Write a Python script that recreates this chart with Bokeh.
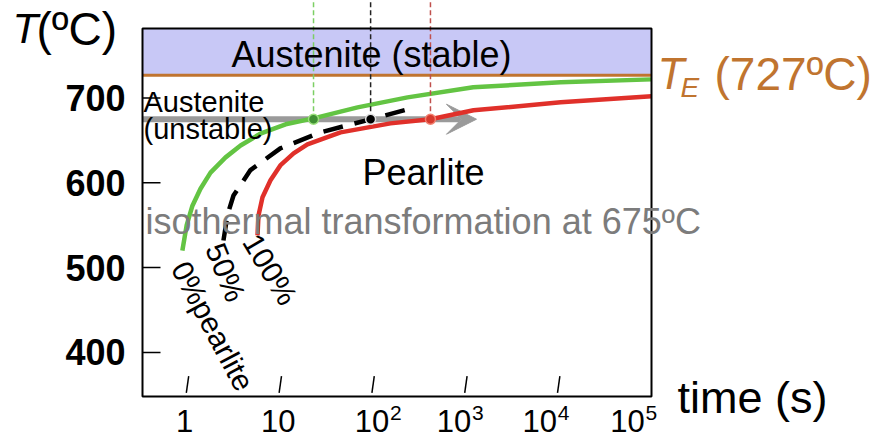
import math
from bokeh.plotting import figure
from bokeh.models import Label, Arrow, VeeHead, ColumnDataSource
from bokeh.core.properties import value
from bokeh.embed import file_html
from bokeh.resources import INLINE

# ---------------- data ----------------
time_ticks = [1, 10, 100, 1000, 10000, 100000]
tick_text = ["1", "10", "10", "10", "10", "10"]
tick_exp = ["", "", "2", "3", "4", "5"]
temp_ticks = [400, 500, 600, 700]

T_E = 727          # eutectoid temperature
T_iso = 675        # isothermal transformation temperature
t_arrow_end = 1300 # time where the grey arrow tip sits

# 0% pearlite (start) curve
t_0 = [0.88, 0.98, 1.13, 1.38, 1.77, 2.57, 3.73, 6.1, 11.4, 22.8, 68, 235, 1200, 10500, 100000]
T_0 = [520, 550, 573, 593, 612, 630, 644, 658, 669, 676, 689, 700.8, 712.6, 718.5, 722]
# 50% pearlite curve
t_50 = [2.44, 2.70, 3.13, 4.77, 10.0, 27.1, 93.8, 235]
T_50 = [532, 562.5, 585, 615, 640.6, 659.5, 674.9, 686.7]
# 100% pearlite (finish) curve
t_100 = [5.68, 5.82, 6.43, 7.84, 10.0, 13.9, 19.6, 44.6, 154, 415, 1208, 10500, 100000]
T_100 = [538, 561.5, 583, 603, 620.5, 634.7, 645.3, 659.5, 670.1, 675, 685.5, 695, 702]
# times at which each curve is crossed at 675 C
t_cross = [22.8, 94, 415]

# ---------------- layout ----------------
W, H = 876, 438
FL, FR, FT, FB = 142, 651, 28, 396      # the boxed plot area, in pixels
X0, X1 = 10 ** -0.485, 1e5              # time span of the box
Y0, Y1 = 348, 782                       # temperature span of the box
FONT = "Liberation Sans"


def dx(px):
    return 10 ** (math.log10(X0) + (px - FL) / (FR - FL) * (math.log10(X1) - math.log10(X0)))


def dy(py):
    return Y0 + (FB - py) / (FB - FT) * (Y1 - Y0)


p = figure(width=W, height=H, x_axis_type="log", x_axis_location=None,
           y_axis_location=None, x_range=(dx(0), dx(W)), y_range=(dy(H), dy(0)),
           output_backend="svg", toolbar_location=None, min_border=0)
p.grid.visible = False
p.outline_line_color = None
p.background_fill_color = "white"
p.border_fill_color = "white"

# austenite (stable) band
p.quad(left=[X0], right=[X1], bottom=[T_E], top=[Y1], fill_color="#c8c8f6",
       line_color=None)

# grey isothermal arrow (under the curves)
p.add_layout(Arrow(end=VeeHead(size=30, fill_color="#9a9a9a", line_color="#9a9a9a"),
                   x_start=X0, y_start=T_iso, x_end=t_arrow_end, y_end=T_iso,
                   line_color="#9a9a9a", line_width=6, level="underlay"))

# eutectoid line
p.line([X0, X1], [T_E, T_E], line_color="#c0742f", line_width=3)

# curves
p.line(t_0, T_0, line_color="#63c443", line_width=4.5)
p.line(t_50, T_50, line_color="black", line_width=4.5, line_dash="20 12")
p.line(t_100, T_100, line_color="#e0302a", line_width=4.5)

# vertical dashed guides (extend above the box)
guide_colors = ["#7ccf64", "#222222", "#c0504d"]
for t, c in zip(t_cross, guide_colors):
    p.line([t, t], [T_iso, dy(0)], line_color=c, line_width=1.5, line_dash="5 3")

p.scatter(t_cross, [T_iso] * len(t_cross), size=10,
          fill_color=["#3f8f33", "black", "#d63a2e"],
          line_color=["#9be07c", "#dddddd", "#f28070"], line_width=1.5)

# box (frame of the diagram)
p.quad(left=[X0], right=[X1], bottom=[Y0], top=[Y1], fill_color=None,
       line_color="black", line_width=2)

# temperature axis: inward ticks + bold labels
p.scatter([dx(FL + 9)] * len(temp_ticks), temp_ticks, marker="dash", size=18,
          line_color="black", line_width=1.5)
p.text(x=[dx(FL - 17)] * len(temp_ticks), y=temp_ticks, text=[str(v) for v in temp_ticks],
       text_align="right", text_baseline="middle", text_font=value(FONT),
       text_font_size="36px", text_font_style="bold", text_color="black")

# time axis: slanted inward ticks + labels with superscripts
p.scatter(time_ticks[:-1], [dy(384)] * (len(time_ticks) - 1), marker="dash", size=17,
          angle=math.radians(82), line_color="black", line_width=1.5)
label_dx = [-3, -2, -1, -12, -19, -24]
src = ColumnDataSource(dict(x=time_ticks, t=tick_text, off=label_dx))
p.text(x="x", y=dy(420), text="t", source=src, x_offset="off",
       text_align="center", text_baseline="middle", text_font=value(FONT),
       text_font_size="31px", text_color="black")
keep = [i for i, e in enumerate(tick_exp) if e]
src_e = ColumnDataSource(dict(x=[time_ticks[i] for i in keep],
                              e=[tick_exp[i] for i in keep],
                              off=[label_dx[i] + 18 for i in keep]))
p.text(x="x", y=dy(412), text="e", source=src_e, x_offset="off",
       text_align="left", text_baseline="middle", text_font=value(FONT),
       text_font_size="21px", text_color="black")


def lab(px, py, text, size, color="black", style="normal", align="left", angle=0.0):
    # py is the vertical middle of the text line
    p.add_layout(Label(x=dx(px), y=dy(py), text=text, text_font=FONT,
                       text_font_size=f"{size}px", text_color=color,
                       text_font_style=style, text_align=align,
                       text_baseline="middle", angle=angle))


# axis titles
lab(12, 28, "T", 42, style="italic")
lab(36, 28, "(ºC)", 46)
lab(677, 397, "time (s)", 45)

# region labels
lab(371, 54, "Austenite (stable)", 36, align="center")
lab(143, 101, "Austenite", 29)
lab(143, 128, "(unstable)", 29)
lab(362, 172, "Pearlite", 36)
lab(145, 221, "isothermal transformation at 675ºC", 36, color="#7c7c7c")

# curve labels
lab(179, 263, "0%pearlite", 30, angle=math.radians(-62))
lab(214, 244, "50%", 30, angle=math.radians(-68))
lab(250, 236, "100%", 30, angle=math.radians(-59))

# eutectoid label
lab(657, 73, "T", 44, color="#c0742f", style="italic")
lab(680, 87, "E", 28, color="#c0742f", style="italic")
lab(714, 73, "(727ºC)", 46, color="#c0742f")

open("out.html", "w").write(file_html(p, INLINE))
